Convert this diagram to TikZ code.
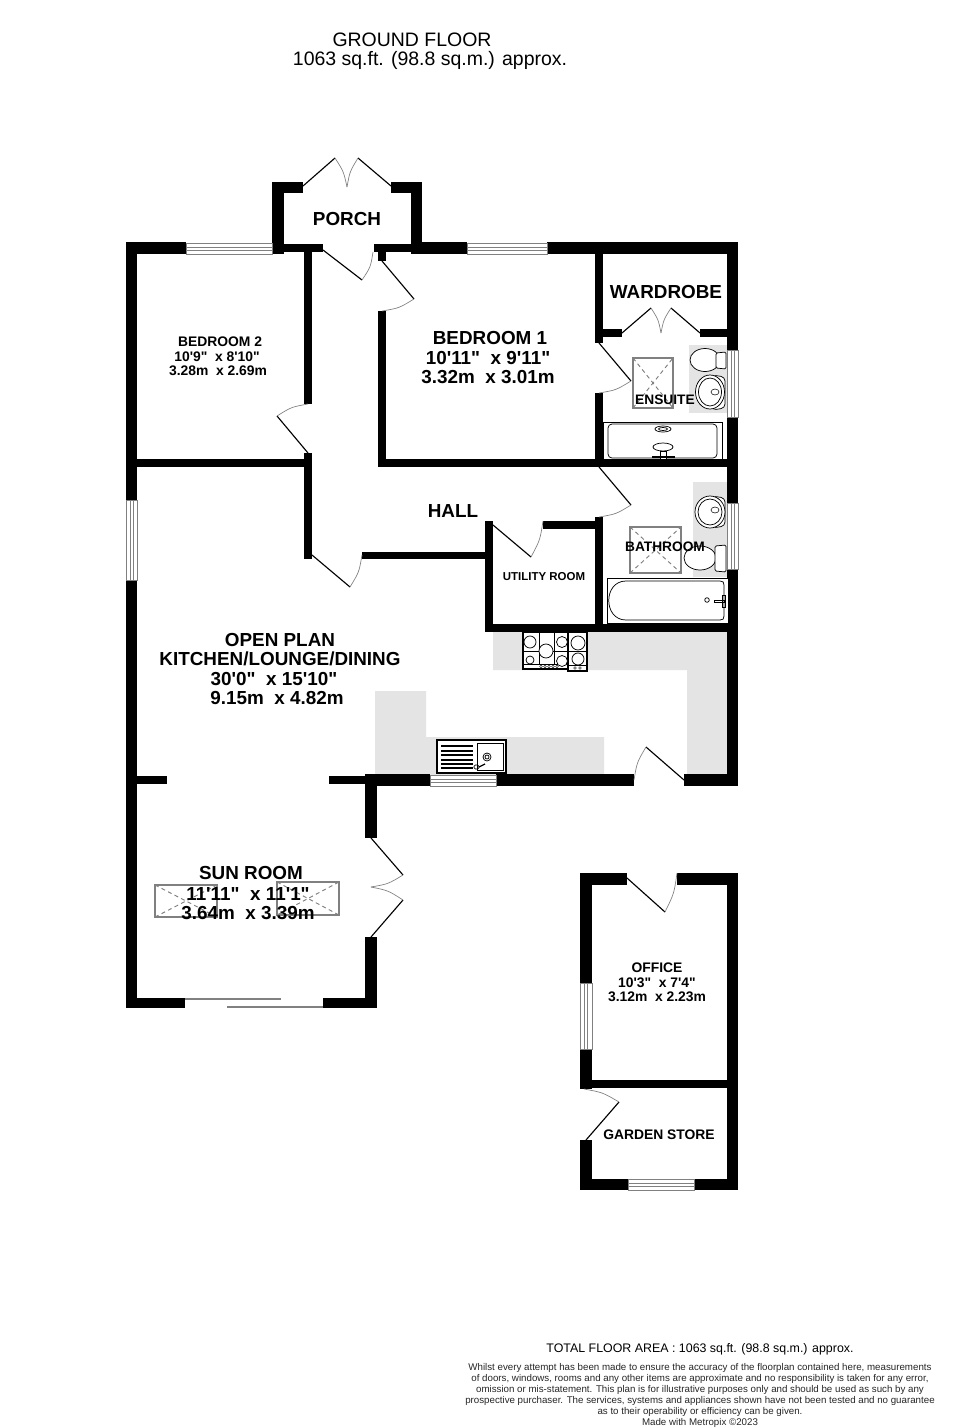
\documentclass[tikz,border=0pt]{standalone}
\usepackage{fontspec}
\usetikzlibrary{calc}
\newfontfamily\planfont{Liberation Sans}
\definecolor{fitgrey}{HTML}{E4E4E4}
\definecolor{linegrey}{HTML}{808080}
\newcommand{\pxfont}[2]{\fontsize{#1}{#2}\selectfont}
\newcommand{\planwall}[4]{\fill[black] (#1,#2) rectangle (#3,#4);}
\newcommand{\hwin}[4]{\draw[winline] (#1,#2) rectangle (#3,#4);
  \draw[winline] (#1,{(#2+#4)/2-1.5}) -- (#3,{(#2+#4)/2-1.5}) (#1,{(#2+#4)/2+1.5}) -- (#3,{(#2+#4)/2+1.5});}
\newcommand{\vwin}[4]{\draw[winline] (#1,#2) rectangle (#3,#4);
  \draw[winline] ({(#1+#3)/2-1.5},#2) -- ({(#1+#3)/2-1.5},#4) ({(#1+#3)/2+1.5},#2) -- ({(#1+#3)/2+1.5},#4);}
% hinge, leaf end, arc end
\newcommand{\planDoor}[3]{\draw[leaf] (#1) -- (#2);
  \draw[swing] (#2) .. controls ($(#1)!1.07!($(#2)!.5!(#3)$)$) .. (#3);}
\newcommand{\skylight}[4]{\draw[linegrey,line width=.9pt] (#1,#2) rectangle (#3,#4);
  \draw[linegrey,line width=.7pt,dash pattern=on 3pt off 2.5pt] (#1,#2) -- (#3,#4) (#1,#4) -- (#3,#2);}
\tikzset{
  x=0.75pt,y=-0.75pt,
  winline/.style={linegrey,line width=.5pt},
  leaf/.style={black,line width=.85pt},
  swing/.style={linegrey,line width=.5pt},
  fit line/.style={black,line width=.55pt},
  big/.style={font=\planfont\bfseries\pxfont{14.15}{14.6},align=center,inner sep=0pt,text=black},
  mid/.style={font=\planfont\bfseries\pxfont{10.3}{11.25},align=center,inner sep=0pt,text=black},
  small/.style={font=\planfont\bfseries\pxfont{10.4}{10.9},align=center,inner sep=0pt,text=black},
  head/.style={font=\planfont\pxfont{14.6}{15},inner sep=0pt,text=black},
  foot/.style={font=\planfont\pxfont{7.3}{8.25},align=center,inner sep=0pt,text=black!85},
}
\begin{document}
\begin{tikzpicture}
\useasboundingbox (0,0) rectangle (980,1428);
\fill[white] (0,0) rectangle (980,1428);

% fitted units (grey)
\fill[fitgrey] (493,632) -- (727,632) -- (727,774) -- (687,774) -- (687,670) -- (493,670) -- cycle;
\fill[fitgrey] (375,691) -- (426,691) -- (426,737) -- (604,737) -- (604,775) -- (375,775) -- cycle;
\fill[fitgrey] (689,345) rectangle (727,413);
\fill[fitgrey] (693,482) rectangle (727,577);

% main walls
\planwall{126}{242}{137}{500}
\planwall{126}{580}{137}{1008}
\planwall{126}{242}{186}{254}
\planwall{272}{242}{284}{254}
\planwall{272}{182}{284}{254}
\planwall{272}{182}{303}{193}
\planwall{391}{182}{422}{193}
\planwall{411}{182}{422}{254}
\planwall{284}{244}{323}{252}
\planwall{374}{244}{411}{252}
\planwall{411}{242}{467}{254}
\planwall{547}{242}{738}{254}
\planwall{304}{252}{312}{404}
\planwall{304}{453}{312}{559}
\planwall{137}{459}{304}{467}
\planwall{378}{252}{386}{261}
\planwall{378}{311}{386}{467}
\planwall{378}{459}{738}{467}
\planwall{595}{254}{603}{343}
\planwall{603}{329}{622}{337}
\planwall{700}{329}{727}{337}
\planwall{727}{242}{738}{350}
\planwall{727}{417}{738}{503}
\planwall{727}{569}{738}{786}
\planwall{595}{393}{603}{467}
\planwall{595}{517}{603}{632}
\planwall{362}{552}{485}{559}
\planwall{485}{521}{493}{632}
\planwall{543}{521}{595}{529}
\planwall{485}{624}{738}{632}
\planwall{365}{774}{430}{786}
\planwall{496}{774}{634}{786}
\planwall{684}{774}{738}{786}
\planwall{137}{776}{167}{784}
\planwall{329}{776}{365}{784}
\planwall{365}{774}{377}{838}
\planwall{365}{937}{377}{1008}
\planwall{126}{998}{185}{1008}
\planwall{323}{998}{377}{1008}
% office and store
\planwall{580}{873}{592}{983}
\planwall{580}{1049}{592}{1089}
\planwall{580}{873}{627}{885}
\planwall{677}{873}{738}{885}
\planwall{727}{873}{738}{1190}
\planwall{592}{1080}{727}{1088}
\planwall{580}{1140}{592}{1190}
\planwall{580}{1179}{628}{1190}
\planwall{694}{1179}{738}{1190}

% windows
\hwin{186}{243}{272}{254}
\hwin{467}{243}{547}{254}
\vwin{727}{350}{738}{417}
\vwin{727}{503}{738}{569}
\vwin{126}{500}{137}{580}
\hwin{430}{775}{496}{786}
\vwin{580}{983}{592}{1049}
\hwin{628}{1179}{694}{1190}

% doors
\planDoor{303,186}{335,158}{347,187}
\planDoor{391,186}{358,158}{347,187}
\planDoor{323,250}{362,280}{373,252}
\planDoor{382,261}{414,299}{382,311}
\planDoor{308,453}{277,416}{308,404}
\planDoor{312,555}{350,587}{362,555}
\planDoor{622,333}{651,308}{661,333}
\planDoor{700,333}{671,308}{661,333}
\planDoor{599,343}{631,381}{599,393}
\planDoor{599,467}{631,505}{599,517}
\planDoor{493,525}{531,557}{543,521}
\planDoor{684,780}{646,747}{634,780}
\planDoor{371,838}{403,875}{371,887}
\planDoor{371,937}{403,900}{371,887}
\planDoor{627,878}{665,912}{677,873}
\planDoor{586,1140}{619,1102}{584,1089}

% sliding door
\draw[linegrey,line width=.9pt] (185,999) -- (281,999);
\draw[linegrey,line width=.9pt] (227,1007) -- (323,1007);

% skylights / shower trays
\skylight{633}{358}{673}{408}
\skylight{630}{527}{681}{573}
\skylight{155}{885}{217}{917}
\skylight{277}{882}{339}{915}

% ensuite fittings
\draw[fit line,fill=white] (705,360) ellipse (15 and 11.5);
\draw[fit line,fill=white,rounded corners=1pt] (716,353) -- (726,352) -- (726,369) -- (716,368) -- cycle;
\draw[fit line,fill=white,rounded corners=3pt] (712,375) -- (725,377) -- (725,408) -- (712,410) -- cycle;
\fill[white] (710,392) ellipse (14.5 and 17);
\draw[fit line] (710,392) ellipse (14.5 and 17);
\draw[fit line] (710,392) ellipse (11.5 and 14);
\draw[fit line,line width=.4pt] (715,392) ellipse (4 and 3);
\draw[fit line,fill=white] (603,422) rectangle (722,459);
\draw[fit line,rounded corners=3pt] (608,424) rectangle (717,458);
\draw[fit line] (663,429) ellipse (8 and 3);
\draw[fit line] (663,429) ellipse (4.5 and 1.5);
\draw[fit line,fill=white] (663,447) ellipse (10 and 4);
\draw[fit line,fill=white] (660,451) rectangle (666,459);
\draw[fit line,line width=1pt] (652,457) -- (675,457);

% bathroom fittings
\draw[fit line,fill=white,rounded corners=3pt] (712,496) -- (725,498) -- (725,526) -- (712,528) -- cycle;
\fill[white] (710,512) ellipse (15 and 16);
\draw[fit line] (710,512) ellipse (15 and 16);
\draw[fit line] (710,512) ellipse (12 and 13);
\draw[fit line,line width=.4pt] (715,510) ellipse (4 and 3);
\draw[fit line,fill=white] (700,558) ellipse (16 and 12);
\draw[fit line,fill=white,rounded corners=1pt] (715,546) -- (726,545) -- (726,572) -- (715,571) -- cycle;
\draw[fit line,fill=white] (607,578) rectangle (728,623);
\draw[fit line] (626,581) -- (720,581) .. controls (723,581) and (724,582) .. (724,585) -- (724,616) .. controls (724,619) and (723,620) .. (720,620) -- (626,620) .. controls (603,620) and (603,581) .. (626,581) -- cycle;
\draw[fit line] (707,600) circle (2.3);
\draw[fit line] (714,600) rectangle (724,602);
\draw[fit line] (722,595) rectangle (725,607);

% hob
\draw[fit line,line width=.8pt,fill=white] (523,632) rectangle (568,669);
\draw[fit line,line width=.8pt,fill=white] (568,632) rectangle (587,671);
\draw[fit line] (539,632) -- (539,664) (554,632) -- (554,664) (523,651) -- (568,651) (568,651) -- (587,651) (523,664) -- (568,664) (568,665) -- (587,665);
\draw[fit line,fill=white] (530,642) circle (6);
\draw[fit line,fill=white] (530,660) circle (4);
\draw[fit line,fill=white] (546,651) circle (7);
\draw[fit line,fill=white] (562,642) circle (5.5);
\draw[fit line,fill=white] (562,661) circle (5.5);
\draw[fit line,fill=white] (578,643) circle (7);
\draw[fit line,fill=white] (578,659) circle (6);
\foreach \hx in {541,545,549,553,557} {\draw[fit line,line width=.35pt] (\hx,666.5) circle (1.4);}
\foreach \hx in {575,580} {\draw[fit line,line width=.35pt] (\hx,668) circle (1.4);}

% sink
\draw[black,line width=.9pt,fill=white] (437,740) rectangle (506,773);
\draw[fit line] (477,743) rectangle (503,770);
\foreach \sy in {745,750,754,759,763,767} {\draw[fit line,line width=.45pt] (441,\sy) rectangle (472,\sy+1.6);}
\draw[fit line] (487,757) circle (4);
\draw[fit line] (487,757) circle (2);
\draw[fit line,rounded corners=1pt] (474,765) rectangle (479,769);
\draw[fit line,line width=.9pt] (479,767) -- (485,764);

% labels
\node[head] (gf) at (412,40) {GROUND FLOOR};
\node[head] (gfarea) at (430,60) {1063 sq.ft. (98.8 sq.m.) approx.};
\node[big] (porch) at (347,219) {PORCH};
\node[big] (wardrobe) at (666,292) {WARDROBE};
\node[big] (bed1a) at (490,338) {BEDROOM 1};
\node[big] (bed1b) at (488,358) {10'11"\ \ x 9'11"};
\node[big] (bed1c) at (488,377) {3.32m\ \ x 3.01m};
\node[small] (bed2a) at (220,342) {BEDROOM 2};
\node[small] (bed2b) at (217,357) {10'9"\ \ x 8'10"};
\node[small] (bed2c) at (218,371) {3.28m\ \ x 2.69m};
\node[mid] (ensuite) at (665,400) {ENSUITE};
\node[big] (hall) at (453,511) {HALL};
\node[mid] (bathroom) at (665,547) {BATHROOM};
\node[font=\planfont\bfseries\pxfont{8.6}{9.75},inner sep=0pt] (utility) at (544,577) {UTILITY ROOM};
\node[big] (opa) at (280,640) {OPEN PLAN};
\node[big] (opb) at (280,659) {KITCHEN/LOUNGE/DINING};
\node[big] (opc) at (274,679) {30'0"\ \ x 15'10"};
\node[big] (opd) at (277,698) {9.15m\ \ x 4.82m};
\node[big] (suna) at (251,873) {SUN ROOM};
\node[big] (sunb) at (248,894) {11'11"\ \ x 11'1"};
\node[big] (sunc) at (248,913) {3.64m\ \ x 3.39m};
\node[small] (ofa) at (657,968) {OFFICE};
\node[small] (ofb) at (657,983) {10'3"\ \ x 7'4"};
\node[small] (ofc) at (657,997) {3.12m\ \ x 2.23m};
\node[small] (store) at (659,1135) {GARDEN STORE};
\node[font=\planfont\pxfont{9.3}{10.5},inner sep=0pt] (total) at (700,1349) {TOTAL FLOOR AREA : 1063 sq.ft. (98.8 sq.m.) approx.};
\node[foot,anchor=north] (disc) at (700,1363.5) {Whilst every attempt has been made to ensure the accuracy of the floorplan contained here, measurements\\
of doors, windows, rooms and any other items are approximate and no responsibility is taken for any error,\\
omission or mis-statement. This plan is for illustrative purposes only and should be used as such by any\\
prospective purchaser. The services, systems and appliances shown have not been tested and no guarantee\\
as to their operability or efficiency can be given.\\
Made with Metropix \textcopyright 2023};
\end{tikzpicture}
\end{document}
